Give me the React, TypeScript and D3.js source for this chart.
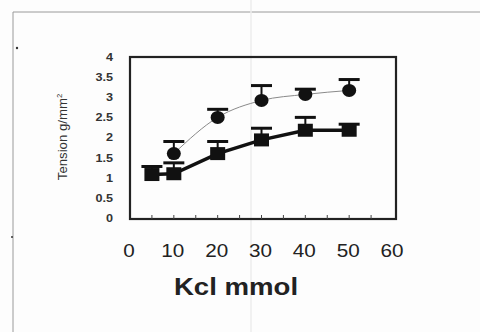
import { useEffect, useRef } from 'react';
import * as d3 from 'd3';

// KCl concentration (mmol) and tension (g/mm²)
const squareConc = [5, 10, 20, 30, 40, 50];
const squareMean = [1.08, 1.1, 1.6, 1.94, 2.18, 2.18];
const squareUpper = [1.28, 1.37, 1.9, 2.23, 2.5, 2.33];

const circleConc = [10, 20, 30, 40, 50];
const circleMean = [1.6, 2.5, 2.92, 3.07, 3.17];
const circleUpper = [1.9, 2.7, 3.29, 3.2, 3.44];

const xTicks = [0, 10, 20, 30, 40, 50, 60];
const yTicks = [0, 0.5, 1, 1.5, 2, 2.5, 3, 3.5, 4];

const FONT = 'Arial, "Liberation Sans", sans-serif';
// the scan is a little stretched sideways
const STRETCH = 1.15;

export default function App() {
  const svgRef = useRef<SVGSVGElement>(null);

  useEffect(() => {
    if (!svgRef.current) return;
    const svg = d3.select(svgRef.current);
    svg.selectAll('*').remove();

    const box = { left: 130, right: 396, top: 57, bottom: 219 };
    const x = d3.scaleLinear().domain([0, 60]).range([box.left, box.right - 3]);
    const y = d3.scaleLinear().domain([0, 4]).range([box.bottom - 1, box.top]);

    svg.append('rect').attr('width', 480).attr('height', 332).attr('fill', '#fdfdfd');

    // scanned page frame
    svg.append('line').attr('x1', 13).attr('y1', 12).attr('x2', 480).attr('y2', 12)
      .attr('stroke', '#9a9a9a').attr('stroke-width', 1);
    svg.append('line').attr('x1', 13).attr('y1', 12).attr('x2', 13).attr('y2', 332)
      .attr('stroke', '#9a9a9a').attr('stroke-width', 1);
    svg.append('line').attr('x1', 251).attr('y1', 0).attr('x2', 251).attr('y2', 332)
      .attr('stroke', '#ececec').attr('stroke-width', 1.5);
    svg.append('circle').attr('cx', 17).attr('cy', 48).attr('r', 1.2).attr('fill', '#333');
    svg.append('circle').attr('cx', 12).attr('cy', 237).attr('r', 1).attr('fill', '#333');

    // plot box
    svg.append('rect')
      .attr('x', box.left).attr('y', box.top)
      .attr('width', box.right - box.left).attr('height', box.bottom - box.top)
      .attr('fill', 'none').attr('stroke', '#222').attr('stroke-width', 2.2);

    // minor ticks along the bottom, pointing inward
    svg.append('g').selectAll('line')
      .data(d3.range(5, 60, 5))
      .enter().append('line')
      .attr('x1', (d) => x(d)).attr('x2', (d) => x(d))
      .attr('y1', box.bottom).attr('y2', box.bottom - 4)
      .attr('stroke', '#444').attr('stroke-width', 1);

    svg.append('g').selectAll('text')
      .data(yTicks)
      .enter().append('text')
      .attr('transform', (d) => `translate(113,${y(d)}) scale(${STRETCH},1)`)
      .attr('dy', '0.36em')
      .attr('text-anchor', 'end')
      .attr('font-family', FONT).attr('font-size', 11).attr('font-weight', 'bold')
      .attr('fill', '#333')
      .text((d) => String(d));

    svg.append('g').selectAll('text')
      .data(xTicks)
      .enter().append('text')
      .attr('transform', (d) => `translate(${x(d) - 1},257) scale(${STRETCH},1)`)
      .attr('text-anchor', 'middle')
      .attr('font-family', FONT).attr('font-size', 18)
      .attr('fill', '#222')
      .text((d) => String(d));

    svg.append('text')
      .attr('transform', `translate(236,295) scale(${STRETCH + 0.05},1)`)
      .attr('text-anchor', 'middle')
      .attr('font-family', FONT).attr('font-size', 23).attr('font-weight', 'bold')
      .attr('fill', '#222')
      .text('Kcl mmol');

    const yl = svg.append('text')
      .attr('transform', `translate(67,137) rotate(-90) scale(1.1,1)`)
      .attr('text-anchor', 'middle')
      .attr('font-family', FONT).attr('font-size', 12)
      .attr('fill', '#333');
    yl.append('tspan').text('Tension g/mm');
    yl.append('tspan').attr('font-size', 7).attr('dy', -5).text('2');

    // circle series (thin gray smoothed line)
    const circleLine = d3.line<number>()
      .x((_, i) => x(circleConc[i]))
      .y((d) => y(d))
      .curve(d3.curveMonotoneX);
    svg.append('path')
      .attr('d', circleLine(circleMean))
      .attr('fill', 'none').attr('stroke', '#8a8a8a').attr('stroke-width', 1);

    // square series (thick black line)
    const squareLine = d3.line<number>()
      .x((_, i) => x(squareConc[i]))
      .y((d) => y(d));
    svg.append('path')
      .attr('d', squareLine(squareMean))
      .attr('fill', 'none').attr('stroke', '#111').attr('stroke-width', 3.5);

    const errorBars = (conc: number[], mean: number[], upper: number[]) => {
      const g = svg.append('g');
      conc.forEach((c, i) => {
        g.append('line')
          .attr('x1', x(c)).attr('x2', x(c))
          .attr('y1', y(mean[i])).attr('y2', y(upper[i]))
          .attr('stroke', '#111').attr('stroke-width', 2);
        g.append('line')
          .attr('x1', x(c) - 10.5).attr('x2', x(c) + 10.5)
          .attr('y1', y(upper[i])).attr('y2', y(upper[i]))
          .attr('stroke', '#111').attr('stroke-width', 3);
      });
    };
    errorBars(circleConc, circleMean, circleUpper);
    errorBars(squareConc, squareMean, squareUpper);

    svg.append('g').selectAll('ellipse')
      .data(circleMean)
      .enter().append('ellipse')
      .attr('cx', (_, i) => x(circleConc[i]))
      .attr('cy', (d) => y(d))
      .attr('rx', 7).attr('ry', 6.5)
      .attr('fill', '#111');

    svg.append('g').selectAll('rect')
      .data(squareMean)
      .enter().append('rect')
      .attr('x', (_, i) => x(squareConc[i]) - 7.5)
      .attr('y', (d) => y(d) - 6.5)
      .attr('width', 15).attr('height', 13)
      .attr('fill', '#111');
  }, []);

  return (
    <svg
      ref={svgRef}
      width={480}
      height={332}
      style={{ position: 'absolute', left: 0, top: 0 }}
    />
  );
}
